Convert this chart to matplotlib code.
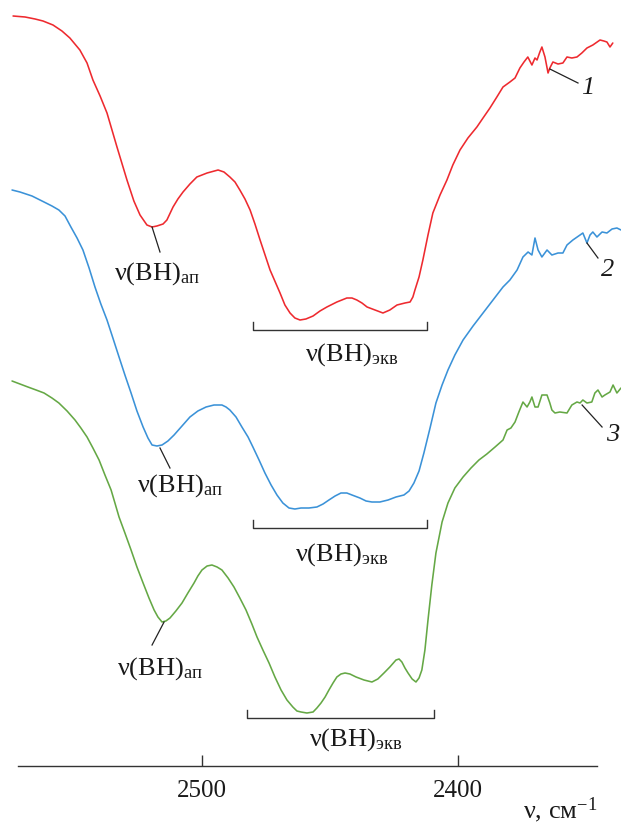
import matplotlib
matplotlib.use("Agg")
import matplotlib.pyplot as plt

plt.rcParams['font.family'] = ['Liberation Serif', 'DejaVu Serif']
plt.rcParams['mathtext.fontset'] = 'custom'
plt.rcParams['mathtext.rm'] = 'Liberation Serif'
plt.rcParams['mathtext.it'] = 'Liberation Serif:italic'

# ---- data: wavenumber (cm^-1) and transmittance (arb. units, curves offset) ----
wn_1 = [2573.8, 2569.1, 2565.2, 2562.1, 2558.2, 2554.7, 2551.6, 2547.7, 2544.9, 2542.6,
        2539.8, 2537.1, 2533.2, 2529.3, 2526.6, 2524.2, 2521.5, 2519.5, 2517.6, 2515.2,
        2513.7, 2511.3, 2509.4, 2507.4, 2504.7, 2502.0, 2498.0, 2493.7, 2491.4, 2489.1,
        2487.1, 2485.2, 2483.2, 2481.2, 2479.3, 2477.3, 2473.4, 2469.5, 2467.6, 2465.6,
        2463.7, 2461.7, 2459.4, 2456.6, 2453.9, 2451.2, 2447.3, 2443.4, 2441.4, 2439.5,
        2437.5, 2435.5, 2432.4, 2429.3, 2426.6, 2423.8, 2420.7, 2418.7, 2417.6, 2416.8,
        2415.2, 2413.7, 2411.7, 2409.8, 2407.0, 2404.3, 2402.0, 2399.2, 2396.1, 2392.6,
        2390.2, 2387.5, 2384.8, 2382.4, 2379.7, 2377.7, 2375.8, 2374.2, 2372.7, 2371.1,
        2369.9, 2369.1, 2368.0, 2367.2, 2366.0, 2364.8, 2364.1, 2362.9, 2360.9, 2359.0,
        2357.4, 2355.5, 2353.5, 2351.6, 2349.6, 2347.3, 2344.5, 2343.0, 2341.8, 2340.6,
        2339.5]
t_1 = [75.0, 74.9, 74.7, 74.5, 74.1, 73.5, 72.8, 71.6, 70.3, 68.6,
       67.0, 65.3, 61.9, 58.6, 56.5, 55.1, 54.1, 53.9, 54.0, 54.2,
       54.6, 55.9, 56.7, 57.4, 58.2, 58.9, 59.3, 59.6, 59.4, 58.9,
       58.4, 57.6, 56.7, 55.6, 54.2, 52.6, 49.6, 47.3, 46.1, 45.3,
       44.8, 44.6, 44.7, 45.0, 45.5, 45.9, 46.4, 46.8, 46.8, 46.6,
       46.3, 45.9, 45.6, 45.3, 45.6, 46.1, 46.3, 46.4, 46.9, 47.6,
       48.9, 50.6, 53.1, 55.3, 57.1, 58.6, 60.1, 61.6, 62.8, 63.9,
       64.8, 65.8, 66.9, 67.9, 68.4, 68.8, 69.8, 70.4, 70.9, 70.1,
       70.8, 70.6, 71.4, 71.9, 70.9, 69.3, 69.8, 70.4, 70.2, 70.3,
       70.9, 70.8, 70.9, 71.3, 71.8, 72.1, 72.6, 72.5, 72.4, 71.9,
       72.3]

wn_2 = [2574.2, 2571.1, 2566.4, 2561.7, 2558.6, 2555.9, 2553.5, 2551.2, 2548.8, 2546.5,
        2544.1, 2541.8, 2539.5, 2537.1, 2534.8, 2532.4, 2530.1, 2527.7, 2525.4, 2523.0,
        2521.1, 2519.5, 2517.6, 2515.6, 2513.3, 2510.9, 2507.8, 2504.7, 2501.6, 2498.4,
        2495.3, 2492.2, 2490.6, 2489.1, 2486.7, 2484.4, 2482.0, 2480.1, 2477.7, 2475.4,
        2473.0, 2470.7, 2468.4, 2466.0, 2463.7, 2461.3, 2458.2, 2455.1, 2452.7, 2450.4,
        2448.0, 2445.7, 2443.4, 2441.4, 2438.3, 2435.9, 2433.6, 2430.5, 2427.3, 2424.2,
        2421.1, 2419.1, 2417.2, 2415.2, 2413.3, 2410.9, 2408.6, 2406.2, 2403.9, 2401.2,
        2398.0, 2394.1, 2390.2, 2386.3, 2382.4, 2379.7, 2376.9, 2374.6, 2372.6, 2371.1,
        2369.9, 2368.7, 2367.2, 2365.2, 2363.3, 2360.9, 2359.0, 2357.4, 2355.1, 2352.3,
        2351.2, 2349.6, 2348.4, 2347.3, 2345.7, 2343.7, 2341.8, 2339.8, 2337.9, 2336.3]
t_2 = [57.6, 57.4, 57.0, 56.4, 56.0, 55.6, 55.0, 53.9, 52.8, 51.6,
       49.8, 47.9, 46.2, 44.6, 42.8, 40.9, 39.1, 37.3, 35.5, 33.9,
       32.8, 32.1, 32.0, 32.1, 32.5, 33.1, 34.0, 34.9, 35.5, 35.9,
       36.1, 36.1, 35.9, 35.6, 34.9, 33.9, 32.9, 31.9, 30.6, 29.3,
       28.1, 27.1, 26.3, 25.8, 25.7, 25.8, 25.8, 25.9, 26.2, 26.6,
       27.0, 27.3, 27.3, 27.1, 26.8, 26.5, 26.4, 26.4, 26.6, 26.9,
       27.1, 27.5, 28.3, 29.5, 31.3, 33.8, 36.3, 38.1, 39.6, 41.1,
       42.6, 44.0, 45.3, 46.6, 47.9, 48.6, 49.6, 50.9, 51.4, 51.1,
       52.8, 51.6, 50.9, 51.6, 51.1, 51.3, 51.3, 52.1, 52.6, 53.1,
       53.3, 52.3, 53.1, 53.4, 52.9, 53.4, 53.3, 53.7, 53.8, 53.6]

wn_3 = [2574.2, 2571.1, 2568.0, 2564.8, 2561.7, 2558.6, 2555.9, 2552.7, 2549.6, 2547.3,
        2544.9, 2542.6, 2540.2, 2537.9, 2535.5, 2534.0, 2532.4, 2530.1, 2527.7, 2525.4,
        2523.0, 2520.7, 2518.7, 2517.2, 2515.6, 2514.1, 2512.5, 2510.2, 2507.8, 2505.5,
        2503.1, 2501.6, 2500.0, 2498.0, 2496.1, 2494.1, 2492.2, 2489.8, 2487.5, 2485.2,
        2482.8, 2480.5, 2478.5, 2476.2, 2473.8, 2471.5, 2469.1, 2466.8, 2464.5, 2462.9,
        2461.3, 2459.0, 2456.6, 2455.1, 2453.5, 2451.9, 2450.4, 2448.8, 2447.3, 2445.7,
        2444.1, 2442.2, 2439.8, 2436.7, 2433.6, 2431.3, 2428.9, 2426.6, 2424.2, 2423.0,
        2421.9, 2420.7, 2419.5, 2417.9, 2416.4, 2415.2, 2414.1, 2412.9, 2411.7, 2410.2,
        2408.6, 2406.2, 2403.9, 2401.2, 2398.0, 2394.9, 2391.8, 2388.7, 2385.5, 2382.4,
        2380.8, 2379.3, 2377.7, 2376.2, 2374.6, 2373.0, 2371.9, 2371.1, 2369.9, 2368.7,
        2367.2, 2365.2, 2364.1, 2363.3, 2362.1, 2360.2, 2357.4, 2355.5, 2353.5, 2352.3,
        2351.2, 2349.6, 2347.7, 2346.5, 2345.3, 2343.7, 2342.6, 2340.6, 2339.4, 2337.9,
        2336.3]
t_3 = [38.5, 38.2, 37.9, 37.6, 37.3, 36.8, 36.3, 35.5, 34.6, 33.8,
       32.9, 31.8, 30.6, 29.1, 27.6, 26.3, 24.9, 23.3, 21.6, 19.9,
       18.3, 16.8, 15.6, 14.9, 14.4, 14.5, 14.8, 15.5, 16.3, 17.3,
       18.3, 19.0, 19.6, 20.0, 20.1, 19.9, 19.6, 18.8, 17.9, 16.8,
       15.6, 14.2, 12.9, 11.6, 10.3, 8.9, 7.6, 6.6, 5.9, 5.5,
       5.4, 5.3, 5.4, 5.8, 6.3, 6.9, 7.6, 8.3, 8.9, 9.2,
       9.3, 9.2, 8.9, 8.6, 8.4, 8.7, 9.3, 9.9, 10.6, 10.7,
       10.4, 9.8, 9.3, 8.7, 8.4, 8.8, 9.6, 11.6, 14.6, 18.1,
       21.3, 24.4, 26.3, 27.8, 28.9, 29.8, 30.6, 31.2, 31.9, 32.6,
       33.6, 33.8, 34.4, 35.4, 36.4, 35.9, 36.4, 36.9, 35.9, 35.9,
       37.1, 37.1, 36.3, 35.6, 35.3, 35.4, 35.3, 36.1, 36.4, 36.3,
       36.6, 36.3, 36.4, 37.3, 37.6, 36.9, 37.1, 37.4, 38.1, 37.3,
       37.8]

curve_labels = ['1', '2', '3']
colors = ['#ee2a2f', '#3b92d8', '#65a845']
tick_values = [2500, 2400]
tick_labels = ['2500', '2400']
xlabel = 'ν, см$^{-1}$'
lbl_ap = 'ν(BH)$_{\\mathrm{ап}}$'
lbl_ekv = 'ν(BH)$_{\\mathrm{экв}}$'

fig = plt.figure(figsize=(6.21, 8.25), dpi=100)
ax = fig.add_axes([0, 0, 1, 1])
ax.set_xlim(2578.9, 2336.3)
ax.set_ylim(-5.9, 76.6)

for wn, t, c in zip([wn_1, wn_2, wn_3], [t_1, t_2, t_3], colors):
    ax.plot(wn, t, color=c, lw=1.15, solid_joinstyle='round', solid_capstyle='round')

FS = 18
FS_LBL = 19
lc = '#222222'

# asymmetric-band labels (leader + text)
ap_lines = [((2519.5, 53.9), (2516.4, 51.4)),
            ((2516.4, 31.8), (2512.5, 29.8)),
            ((2514.8, 14.4), (2519.5, 12.1))]
ap_text = [(2517.6, 49.2), (2508.6, 28.0), (2516.4, 9.7)]
for (p0, p1), (tx, ty) in zip(ap_lines, ap_text):
    ax.plot([p0[0], p1[0]], [p0[1], p1[1]], color=lc, lw=0.9)
    ax.text(tx, ty, lbl_ap, fontsize=FS_LBL, ha='center', va='center', color='#1a1a1a')

# equatorial-band brackets
brackets = [(2480.1, 2412.1, 43.6, 0.8), (2480.1, 2412.1, 23.8, 0.8), (2482.4, 2409.4, 4.8, 0.8)]
ekv_text = [(2441.4, 41.1), (2445.3, 21.1), (2439.8, 2.6)]
for (xa, xb, yb, h), (tx, ty) in zip(brackets, ekv_text):
    ax.plot([xa, xa, xb, xb], [yb + h, yb, yb, yb + h], color='#333333', lw=1.0)
    ax.text(tx, ty, lbl_ekv, fontsize=FS_LBL, ha='center', va='center', color='#1a1a1a')

# curve number labels
num_lines = [((2364.1, 69.7), (2353.1, 68.3)),
             ((2349.6, 52.3), (2345.3, 50.8)),
             ((2351.5, 36.1), (2343.7, 33.9))]
num_text = [(2352.0, 67.8), (2344.2, 49.6), (2342.2, 33.1)]
for (p0, p1), (tx, ty), s in zip(num_lines, num_text, curve_labels):
    ax.plot([p0[0], p1[0]], [p0[1], p1[1]], color=lc, lw=0.9)
    ax.text(tx, ty, s, fontsize=FS_LBL, style='italic', ha='left', va='center', color='#1a1a1a')

# axis
for s in ['left', 'right', 'top']:
    ax.spines[s].set_visible(False)
ax.spines['bottom'].set_position(('data', 0))
ax.spines['bottom'].set_bounds(2571.9, 2345.7)
ax.spines['bottom'].set_color('#333333')
ax.spines['bottom'].set_linewidth(1.0)
ax.set_yticks([])
ax.set_xticks(tick_values)
ax.set_xticklabels(tick_labels)
ax.tick_params(axis='x', direction='in', length=8, width=1.0, color='#333333',
               labelsize=FS, pad=10, labelcolor='#1a1a1a')
ax.text(2345.7, -4.4, xlabel, fontsize=FS_LBL, ha='right', va='center', color='#1a1a1a')

fig.savefig('out.png', dpi=100)
